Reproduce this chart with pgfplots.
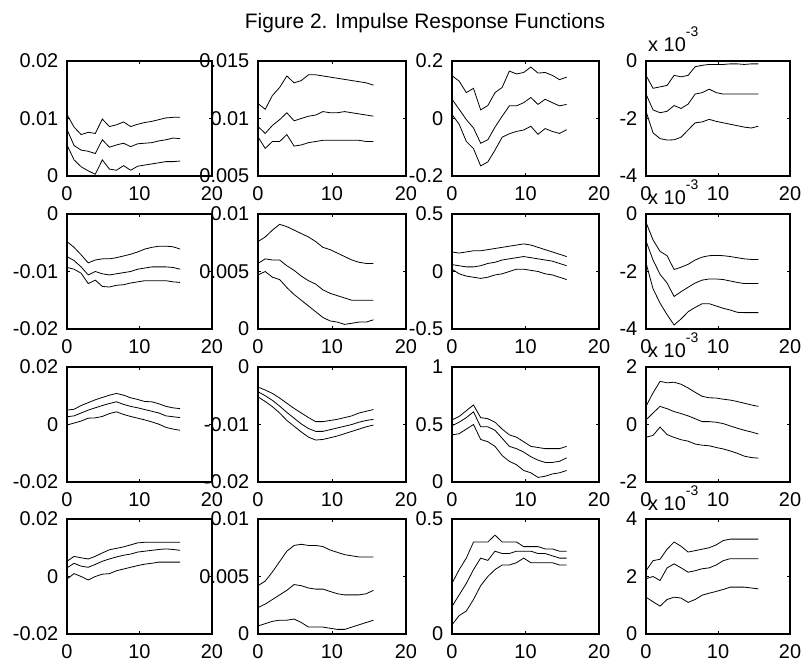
\documentclass[border=0pt]{standalone}
\usepackage{fontspec}
\setmainfont{Liberation Sans}
\usepackage{pgfplots}
\usepackage{pgfplotstable}
\pgfplotsset{compat=1.18}

% one table per panel: upper band (u), point estimate (m), lower band (l)
\pgfplotstableread{
t u m l
0 0.0107 0.0081 0.0054
1 0.0085 0.0053 0.0028
2 0.0072 0.0045 0.0016
3 0.0076 0.0043 0.0009
4 0.0074 0.0039 0.0003
5 0.0099 0.0063 0.0028
6 0.0086 0.0050 0.0012
7 0.0089 0.0054 0.0010
8 0.0094 0.0057 0.0018
9 0.0086 0.0051 0.0010
10 0.0090 0.0056 0.0017
11 0.0093 0.0057 0.0019
12 0.0095 0.0058 0.0021
13 0.0098 0.0061 0.0023
14 0.0101 0.0063 0.0025
15 0.0102 0.0066 0.0025
16 0.0102 0.0065 0.0026
}\tabA
\pgfplotstableread{
t u m l
0 0.0113 0.0093 0.0084
1 0.0108 0.0087 0.0074
2 0.0120 0.0094 0.0080
3 0.0127 0.0099 0.0080
4 0.0137 0.0105 0.0086
5 0.0131 0.0098 0.0076
6 0.0133 0.0100 0.0077
7 0.0138 0.0102 0.0079
8 0.0138 0.0103 0.0080
9 0.0137 0.0106 0.0081
10 0.0136 0.0105 0.0081
11 0.0135 0.0105 0.0081
12 0.0134 0.0106 0.0081
13 0.0133 0.0105 0.0081
14 0.0132 0.0104 0.0081
15 0.0131 0.0103 0.0080
16 0.0129 0.0102 0.0080
}\tabB
\pgfplotstableread{
t u m l
0 0.149 0.067 0.014
1 0.130 0.032 -0.020
2 0.090 -0.004 -0.080
3 0.105 -0.033 -0.105
4 0.030 -0.086 -0.165
5 0.045 -0.074 -0.151
6 0.090 -0.030 -0.110
7 0.108 0.008 -0.065
8 0.165 0.044 -0.053
9 0.155 0.044 -0.045
10 0.160 0.055 -0.040
11 0.179 0.073 -0.027
12 0.158 0.049 -0.055
13 0.160 0.067 -0.035
14 0.150 0.055 -0.045
15 0.135 0.044 -0.052
16 0.144 0.049 -0.039
}\tabC
\pgfplotstableread{
t u m l
0 -0.50 -1.15 -1.75
1 -0.95 -1.70 -2.50
2 -0.90 -1.80 -2.70
3 -0.85 -1.75 -2.75
4 -0.50 -1.55 -2.74
5 -0.55 -1.65 -2.65
6 -0.50 -1.50 -2.40
7 -0.20 -1.15 -2.15
8 -0.15 -1.10 -2.12
9 -0.12 -0.98 -2.03
10 -0.12 -1.10 -2.10
11 -0.12 -1.15 -2.15
12 -0.10 -1.15 -2.20
13 -0.10 -1.15 -2.25
14 -0.12 -1.15 -2.30
15 -0.10 -1.15 -2.33
16 -0.10 -1.15 -2.27
}\tabD
\pgfplotstableread{
t u m l
0 -0.0048 -0.0074 -0.0093
1 -0.0058 -0.0081 -0.0096
2 -0.0071 -0.0092 -0.0103
3 -0.0085 -0.0106 -0.0121
4 -0.0080 -0.0100 -0.0115
5 -0.0078 -0.0104 -0.0126
6 -0.0078 -0.0106 -0.0127
7 -0.0076 -0.0104 -0.0124
8 -0.0073 -0.0102 -0.0123
9 -0.0070 -0.0100 -0.0120
10 -0.0066 -0.0096 -0.0118
11 -0.0061 -0.0094 -0.0116
12 -0.0058 -0.0092 -0.0116
13 -0.0056 -0.0092 -0.0116
14 -0.0056 -0.0092 -0.0116
15 -0.0057 -0.0093 -0.0118
16 -0.0061 -0.0096 -0.0119
}\tabE
\pgfplotstableread{
t u m l
0 0.0076 0.0057 0.0047
1 0.0080 0.0061 0.0050
2 0.0086 0.0060 0.0045
3 0.0091 0.0060 0.0043
4 0.0089 0.0055 0.0036
5 0.0086 0.0051 0.0030
6 0.0083 0.0046 0.0025
7 0.0080 0.0042 0.0020
8 0.0076 0.0039 0.0015
9 0.0071 0.0034 0.0010
10 0.0069 0.0031 0.0007
11 0.0066 0.0029 0.0006
12 0.0063 0.0027 0.0004
13 0.0060 0.0025 0.0005
14 0.0058 0.0025 0.0006
15 0.0057 0.0025 0.0006
16 0.0057 0.0025 0.0008
}\tabF
\pgfplotstableread{
t u m l
0 0.17 0.06 0.02
1 0.16 0.05 -0.02
2 0.17 0.04 -0.04
3 0.18 0.04 -0.05
4 0.18 0.05 -0.06
5 0.19 0.07 -0.05
6 0.20 0.08 -0.03
7 0.21 0.10 -0.02
8 0.22 0.11 0.00
9 0.23 0.12 0.02
10 0.24 0.13 0.02
11 0.23 0.12 0.01
12 0.21 0.11 0.00
13 0.19 0.10 -0.02
14 0.17 0.09 -0.03
15 0.15 0.07 -0.05
16 0.13 0.05 -0.07
}\tabG
\pgfplotstableread{
t u m l
0 -0.29 -0.94 -1.70
1 -0.90 -1.60 -2.60
2 -1.30 -2.10 -3.10
3 -1.45 -2.40 -3.50
4 -1.93 -2.87 -3.86
5 -1.85 -2.70 -3.65
6 -1.75 -2.55 -3.40
7 -1.60 -2.40 -3.25
8 -1.50 -2.30 -3.12
9 -1.45 -2.26 -3.12
10 -1.44 -2.26 -3.20
11 -1.45 -2.28 -3.28
12 -1.48 -2.33 -3.34
13 -1.52 -2.38 -3.42
14 -1.56 -2.42 -3.43
15 -1.58 -2.42 -3.43
16 -1.58 -2.42 -3.43
}\tabH
\pgfplotstableread{
t u m l
0 0.0050 0.0027 -0.0002
1 0.0053 0.0030 0.0005
2 0.0066 0.0040 0.0012
3 0.0076 0.0050 0.0022
4 0.0086 0.0058 0.0023
5 0.0094 0.0066 0.0028
6 0.0102 0.0073 0.0038
7 0.0108 0.0079 0.0044
8 0.0102 0.0070 0.0035
9 0.0093 0.0063 0.0028
10 0.0087 0.0058 0.0022
11 0.0080 0.0052 0.0016
12 0.0079 0.0046 0.0009
13 0.0072 0.0040 0.0001
14 0.0063 0.0030 -0.0010
15 0.0058 0.0027 -0.0016
16 0.0055 0.0024 -0.0020
}\tabI
\pgfplotstableread{
t u m l
0 -0.0035 -0.0043 -0.0052
1 -0.0040 -0.0050 -0.0060
2 -0.0046 -0.0058 -0.0069
3 -0.0054 -0.0068 -0.0080
4 -0.0063 -0.0079 -0.0093
5 -0.0072 -0.0089 -0.0103
6 -0.0080 -0.0099 -0.0113
7 -0.0088 -0.0107 -0.0122
8 -0.0095 -0.0112 -0.0127
9 -0.0095 -0.0112 -0.0126
10 -0.0093 -0.0109 -0.0123
11 -0.0091 -0.0106 -0.0120
12 -0.0088 -0.0103 -0.0116
13 -0.0085 -0.0100 -0.0112
14 -0.0080 -0.0096 -0.0108
15 -0.0077 -0.0093 -0.0104
16 -0.0074 -0.0091 -0.0101
}\tabJ
\pgfplotstableread{
t u m l
0 0.54 0.49 0.41
1 0.57 0.52 0.42
2 0.62 0.56 0.46
3 0.67 0.61 0.50
4 0.56 0.48 0.37
5 0.55 0.48 0.35
6 0.52 0.45 0.31
7 0.46 0.38 0.23
8 0.41 0.31 0.18
9 0.39 0.29 0.15
10 0.35 0.26 0.10
11 0.31 0.22 0.08
12 0.30 0.19 0.04
13 0.29 0.17 0.05
14 0.29 0.17 0.07
15 0.29 0.18 0.08
16 0.31 0.21 0.10
}\tabK
\pgfplotstableread{
t u m l
0 0.63 0.16 -0.44
1 1.10 0.40 -0.38
2 1.50 0.63 -0.09
3 1.45 0.55 -0.35
4 1.47 0.45 -0.45
5 1.40 0.38 -0.53
6 1.27 0.30 -0.58
7 1.12 0.20 -0.68
8 0.98 0.10 -0.72
9 0.93 0.10 -0.74
10 0.92 0.08 -0.80
11 0.88 0.03 -0.85
12 0.85 -0.05 -0.92
13 0.80 -0.13 -1.00
14 0.74 -0.20 -1.10
15 0.68 -0.26 -1.15
16 0.63 -0.33 -1.17
}\tabL
\pgfplotstableread{
t u m l
0 0.0053 0.0030 -0.0009
1 0.0070 0.0046 0.0010
2 0.0065 0.0036 0.0000
3 0.0061 0.0032 -0.0012
4 0.0070 0.0042 0.0000
5 0.0082 0.0053 0.0008
6 0.0093 0.0061 0.0010
7 0.0098 0.0068 0.0020
8 0.0103 0.0074 0.0026
9 0.0110 0.0078 0.0032
10 0.0117 0.0085 0.0038
11 0.0119 0.0088 0.0043
12 0.0119 0.0091 0.0046
13 0.0119 0.0094 0.0050
14 0.0119 0.0096 0.0050
15 0.0119 0.0094 0.0050
16 0.0119 0.0091 0.0050
}\tabM
\pgfplotstableread{
t u m l
0 0.0042 0.0023 0.0007
1 0.0046 0.0026 0.0009
2 0.0054 0.0030 0.0011
3 0.0063 0.0034 0.0012
4 0.0072 0.0038 0.0012
5 0.0077 0.0043 0.0013
6 0.0078 0.0042 0.0010
7 0.0077 0.0040 0.0006
8 0.0077 0.0039 0.0006
9 0.0076 0.0039 0.0006
10 0.0073 0.0037 0.0005
11 0.0071 0.0035 0.0004
12 0.0069 0.0034 0.0004
13 0.0068 0.0034 0.0006
14 0.0067 0.0034 0.0008
15 0.0067 0.0035 0.0010
16 0.0067 0.0038 0.0012
}\tabN
\pgfplotstableread{
t u m l
0 0.22 0.12 0.04
1 0.28 0.17 0.08
2 0.33 0.22 0.10
3 0.40 0.28 0.15
4 0.40 0.33 0.21
5 0.40 0.32 0.25
6 0.43 0.36 0.28
7 0.40 0.35 0.30
8 0.40 0.35 0.30
9 0.40 0.36 0.31
10 0.38 0.36 0.33
11 0.38 0.36 0.31
12 0.38 0.35 0.31
13 0.37 0.35 0.31
14 0.37 0.34 0.31
15 0.36 0.33 0.30
16 0.36 0.33 0.30
}\tabO
\pgfplotstableread{
t u m l
0 2.20 1.92 1.28
1 2.55 2.00 1.12
2 2.60 1.86 0.97
3 2.95 2.30 1.20
4 3.20 2.44 1.28
5 3.05 2.30 1.25
6 2.85 2.15 1.10
7 2.90 2.20 1.20
8 2.95 2.27 1.35
9 3.00 2.30 1.42
10 3.10 2.40 1.48
11 3.25 2.55 1.55
12 3.30 2.62 1.63
13 3.30 2.62 1.63
14 3.30 2.62 1.63
15 3.30 2.62 1.60
16 3.30 2.62 1.57
}\tabP

\newcommand{\tickfont}{\fontsize{20}{24}\selectfont}
\pgfplotsset{
  irf/.style={
    scale only axis, anchor=south west, height=115bp,
    xmin=0, xmax=20, xtick={0,10,20}, xticklabels={0,10,20},
    scaled y ticks=false, scaled x ticks=false,
    axis line style={line width=1.1bp, black},
    tick align=inside, major tick length=3bp,
    every tick/.style={black, line width=0.6bp},
    tick label style={font=\tickfont, inner sep=0pt},
    xticklabel style={anchor=north, yshift=-10bp},
    yticklabel style={anchor=east, xshift=-8.5bp},
  },
}
% three lines per panel
\newcommand{\bands}[1]{%
  \addplot[black, line width=0.8bp] table[x expr=0.975*\thisrow{t}, y=u] {#1};
  \addplot[black, line width=0.8bp] table[x expr=0.975*\thisrow{t}, y=m] {#1};
  \addplot[black, line width=0.8bp] table[x expr=0.975*\thisrow{t}, y=l] {#1};
}
\newcommand{\mult}[1]{%
  \node[anchor=base west, inner sep=0pt, font=\tickfont]
    at ([xshift=2bp, yshift=9bp]#1.north west)
    {x 10\raisebox{15bp}{\fontsize{14}{14}\selectfont -3}};
}

\begin{document}
\begin{tikzpicture}
\useasboundingbox (0,0) rectangle (801bp,661bp);

\node[anchor=base, inner sep=0pt, font=\fontsize{21}{25}\selectfont]
  at (425bp,632bp) {Figure 2. Impulse Response Functions};

% row 1
\begin{axis}[irf, at={(67bp,485bp)}, width=145bp, ymin=0, ymax=0.02,
  ytick={0,0.01,0.02}, yticklabels={0,0.01,0.02}]
\bands{\tabA}
\end{axis}
\begin{axis}[irf, at={(258bp,485bp)}, width=148bp, ymin=0.005, ymax=0.015,
  ytick={0.005,0.01,0.015}, yticklabels={0.005,0.01,0.015}]
\bands{\tabB}
\end{axis}
\begin{axis}[irf, at={(452bp,485bp)}, width=147bp, ymin=-0.2, ymax=0.2,
  ytick={-0.2,0,0.2}, yticklabels={-0.2,0,0.2}]
\bands{\tabC}
\end{axis}
\begin{axis}[irf, name=pD, at={(646bp,485bp)}, width=144bp, ymin=-4, ymax=0,
  ytick={-4,-2,0}, yticklabels={-4,-2,0}]
\bands{\tabD}
\end{axis}
\mult{pD}

% row 2
\begin{axis}[irf, at={(67bp,332bp)}, width=145bp, ymin=-0.02, ymax=0,
  ytick={-0.02,-0.01,0}, yticklabels={-0.02,-0.01,0}]
\bands{\tabE}
\end{axis}
\begin{axis}[irf, at={(258bp,332bp)}, width=148bp, ymin=0, ymax=0.01,
  ytick={0,0.005,0.01}, yticklabels={0,0.005,0.01}]
\bands{\tabF}
\end{axis}
\begin{axis}[irf, at={(452bp,332bp)}, width=147bp, ymin=-0.5, ymax=0.5,
  ytick={-0.5,0,0.5}, yticklabels={-0.5,0,0.5}]
\bands{\tabG}
\end{axis}
\begin{axis}[irf, name=pH, at={(646bp,332bp)}, width=144bp, ymin=-4, ymax=0,
  ytick={-4,-2,0}, yticklabels={-4,-2,0}]
\bands{\tabH}
\end{axis}
\mult{pH}

% row 3
\begin{axis}[irf, at={(67bp,179bp)}, width=145bp, ymin=-0.02, ymax=0.02,
  ytick={-0.02,0,0.02}, yticklabels={-0.02,0,0.02}]
\bands{\tabI}
\end{axis}
\begin{axis}[irf, at={(258bp,179bp)}, width=148bp, ymin=-0.02, ymax=0,
  ytick={-0.02,-0.01,0}, yticklabels={-0.02,-0.01,0}]
\bands{\tabJ}
\end{axis}
\begin{axis}[irf, at={(452bp,179bp)}, width=147bp, ymin=0, ymax=1,
  ytick={0,0.5,1}, yticklabels={0,0.5,1}]
\bands{\tabK}
\end{axis}
\begin{axis}[irf, name=pL, at={(646bp,179bp)}, width=144bp, ymin=-2, ymax=2,
  ytick={-2,0,2}, yticklabels={-2,0,2}]
\bands{\tabL}
\end{axis}
\mult{pL}

% row 4
\begin{axis}[irf, at={(67bp,27bp)}, width=145bp, ymin=-0.02, ymax=0.02,
  ytick={-0.02,0,0.02}, yticklabels={-0.02,0,0.02}]
\bands{\tabM}
\end{axis}
\begin{axis}[irf, at={(258bp,27bp)}, width=148bp, ymin=0, ymax=0.01,
  ytick={0,0.005,0.01}, yticklabels={0,0.005,0.01}]
\bands{\tabN}
\end{axis}
\begin{axis}[irf, at={(452bp,27bp)}, width=147bp, ymin=0, ymax=0.5,
  ytick={0,0.5}, yticklabels={0,0.5}]
\bands{\tabO}
\end{axis}
\begin{axis}[irf, name=pP, at={(646bp,27bp)}, width=144bp, ymin=0, ymax=4,
  ytick={0,2,4}, yticklabels={0,2,4}]
\bands{\tabP}
\end{axis}
\mult{pP}
\end{tikzpicture}
\end{document}
